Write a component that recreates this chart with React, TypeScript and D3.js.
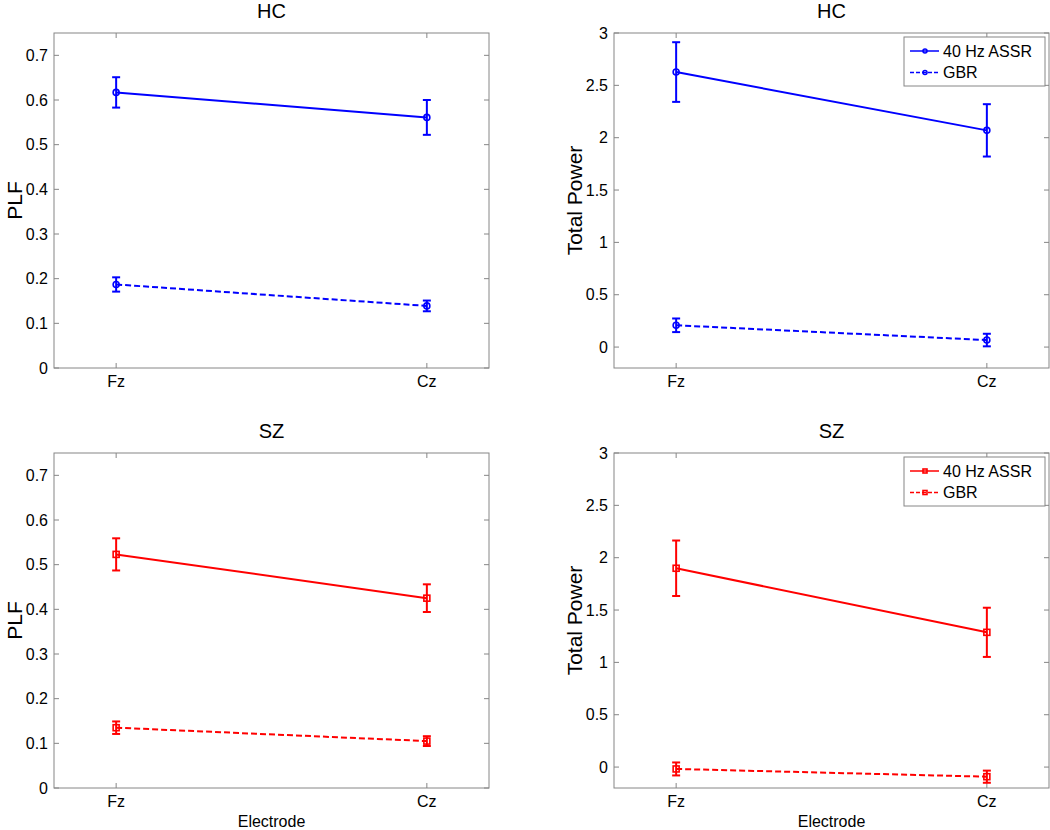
import React from "react";
import * as d3 from "d3";

const electrodes = ["Fz", "Cz"];
const groups = ["HC", "HC", "SZ", "SZ"];
const seriesNames = ["40 Hz ASSR", "GBR"];

// PLF HC
const plfHcAssr = [0.617, 0.561];
const plfHcAssrErr = [0.034, 0.039];
const plfHcGbr = [0.187, 0.139];
const plfHcGbrErr = [0.016, 0.012];
// Total power HC
const powHcAssr = [2.627, 2.07];
const powHcAssrErr = [0.285, 0.25];
const powHcGbr = [0.208, 0.067];
const powHcGbrErr = [0.065, 0.06];
// PLF SZ
const plfSzAssr = [0.523, 0.425];
const plfSzAssrErr = [0.036, 0.031];
const plfSzGbr = [0.135, 0.105];
const plfSzGbrErr = [0.014, 0.011];
// Total power SZ
const powSzAssr = [1.899, 1.287];
const powSzAssrErr = [0.265, 0.235];
const powSzGbr = [-0.018, -0.092];
const powSzGbrErr = [0.062, 0.058];

const plfTicks = [0, 0.1, 0.2, 0.3, 0.4, 0.5, 0.6, 0.7];
const powTicks = [0, 0.5, 1, 1.5, 2, 2.5, 3];

const FONT = "'Liberation Sans', Arial, Helvetica, sans-serif";
const AXIS = "#868686";

type Panel = {
  x0: number; y0: number; w: number; h: number;
  title: string; ylabel: string; yDomain: [number, number]; ticks: number[];
  assr: number[]; assrErr: number[]; gbr: number[]; gbrErr: number[];
  color: string; marker: "circle" | "square"; legend: boolean; xlabel: boolean;
};

const panels: Panel[] = [
  { x0: 54, y0: 33, w: 435, h: 335, title: groups[0], ylabel: "PLF", yDomain: [0, 0.75], ticks: plfTicks,
    assr: plfHcAssr, assrErr: plfHcAssrErr, gbr: plfHcGbr, gbrErr: plfHcGbrErr, color: "#0000ff", marker: "circle", legend: false, xlabel: false },
  { x0: 614, y0: 33, w: 435, h: 335, title: groups[1], ylabel: "Total Power", yDomain: [-0.2, 3], ticks: powTicks,
    assr: powHcAssr, assrErr: powHcAssrErr, gbr: powHcGbr, gbrErr: powHcGbrErr, color: "#0000ff", marker: "circle", legend: true, xlabel: false },
  { x0: 54, y0: 453, w: 435, h: 335, title: groups[2], ylabel: "PLF", yDomain: [0, 0.75], ticks: plfTicks,
    assr: plfSzAssr, assrErr: plfSzAssrErr, gbr: plfSzGbr, gbrErr: plfSzGbrErr, color: "#ff0000", marker: "square", legend: false, xlabel: true },
  { x0: 614, y0: 453, w: 435, h: 335, title: groups[3], ylabel: "Total Power", yDomain: [-0.2, 3], ticks: powTicks,
    assr: powSzAssr, assrErr: powSzAssrErr, gbr: powSzGbr, gbrErr: powSzGbrErr, color: "#ff0000", marker: "square", legend: true, xlabel: true },
];

function Marker({ cx, cy, kind, color, size }: { cx: number; cy: number; kind: string; color: string; size: number }) {
  if (kind === "circle") return <circle cx={cx} cy={cy} r={size} fill="none" stroke={color} strokeWidth={1.6} />;
  return <rect x={cx - size} y={cy - size} width={size * 2} height={size * 2} fill="none" stroke={color} strokeWidth={1.6} />;
}

function PanelView({ p }: { p: Panel }) {
  const x = d3.scalePoint<string>().domain(electrodes).range([p.x0 + p.w / 7, p.x0 + (6 * p.w) / 7]);
  const y = d3.scaleLinear().domain(p.yDomain).range([p.y0 + p.h, p.y0]);
  const line = d3.line<number>().x((_, i) => x(electrodes[i])!).y((v) => y(v));
  const series = [
    { vals: p.assr, err: p.assrErr, dash: undefined as string | undefined },
    { vals: p.gbr, err: p.gbrErr, dash: "6,3" },
  ];
  const tl = 5;
  const fmt = (v: number) => String(+v.toFixed(2));
  return (
    <g>
      <rect x={p.x0} y={p.y0} width={p.w} height={p.h} fill="white" stroke={AXIS} strokeWidth={1} />
      {p.ticks.map((t) => (
        <g key={t}>
          <line x1={p.x0} x2={p.x0 + tl} y1={y(t)} y2={y(t)} stroke={AXIS} />
          <line x1={p.x0 + p.w} x2={p.x0 + p.w - tl} y1={y(t)} y2={y(t)} stroke={AXIS} />
          <text x={p.x0 - 6} y={y(t)} textAnchor="end" dominantBaseline="central" fontSize={16} fontFamily={FONT} fill="#000">{fmt(t)}</text>
        </g>
      ))}
      {electrodes.map((e) => (
        <g key={e}>
          <line x1={x(e)} x2={x(e)} y1={p.y0 + p.h} y2={p.y0 + p.h - tl} stroke={AXIS} />
          <line x1={x(e)} x2={x(e)} y1={p.y0} y2={p.y0 + tl} stroke={AXIS} />
          <text x={x(e)} y={p.y0 + p.h + 19} textAnchor="middle" fontSize={16} fontFamily={FONT} fill="#000">{e}</text>
        </g>
      ))}
      <text x={p.x0 + p.w / 2} y={p.y0 - 15} textAnchor="middle" fontSize={20} fontFamily={FONT} fill="#000">{p.title}</text>
      <text transform={`translate(${p.x0 - 32},${p.y0 + p.h / 2}) rotate(-90)`} textAnchor="middle" fontSize={21} fontFamily={FONT} fill="#000">{p.ylabel}</text>
      {p.xlabel && (
        <text x={p.x0 + p.w / 2} y={p.y0 + p.h + 39} textAnchor="middle" fontSize={16} fontFamily={FONT} fill="#000">Electrode</text>
      )}
      {series.map((s, si) => (
        <g key={si}>
          <path d={line(s.vals)!} fill="none" stroke={p.color} strokeWidth={2} strokeDasharray={s.dash} />
          {s.vals.map((v, i) => {
            const cx = x(electrodes[i])!;
            const yt = y(v + s.err[i]);
            const yb = y(v - s.err[i]);
            return (
              <g key={i}>
                <line x1={cx} x2={cx} y1={yt} y2={yb} stroke={p.color} strokeWidth={2} />
                <line x1={cx - 4} x2={cx + 4} y1={yt} y2={yt} stroke={p.color} strokeWidth={2} />
                <line x1={cx - 4} x2={cx + 4} y1={yb} y2={yb} stroke={p.color} strokeWidth={2} />
                <Marker cx={cx} cy={y(v)} kind={p.marker} color={p.color} size={3} />
              </g>
            );
          })}
        </g>
      ))}
      {p.legend && (
        <g>
          <rect x={p.x0 + p.w - 145} y={p.y0 + 4} width={141} height={49} fill="white" stroke={AXIS} />
          {seriesNames.map((n, i) => {
            const ly = p.y0 + 18 + i * 21.5;
            const lx = p.x0 + p.w - 139;
            return (
              <g key={n}>
                <line x1={lx} x2={lx + 29} y1={ly} y2={ly} stroke={p.color} strokeWidth={1.5} strokeDasharray={i === 1 ? "4,2" : undefined} />
                <Marker cx={lx + 15} cy={ly} kind={p.marker} color={p.color} size={2} />
                <text x={lx + 33} y={ly} dominantBaseline="central" fontSize={16} fontFamily={FONT} fill="#000">{n}</text>
              </g>
            );
          })}
        </g>
      )}
    </g>
  );
}

export default function App() {
  return (
    <svg width={1050} height={830} style={{ position: "absolute", left: 0, top: 0, background: "white" }}>
      <rect x={0} y={0} width={1050} height={830} fill="white" />
      {panels.map((p, i) => <PanelView key={i} p={p} />)}
    </svg>
  );
}
